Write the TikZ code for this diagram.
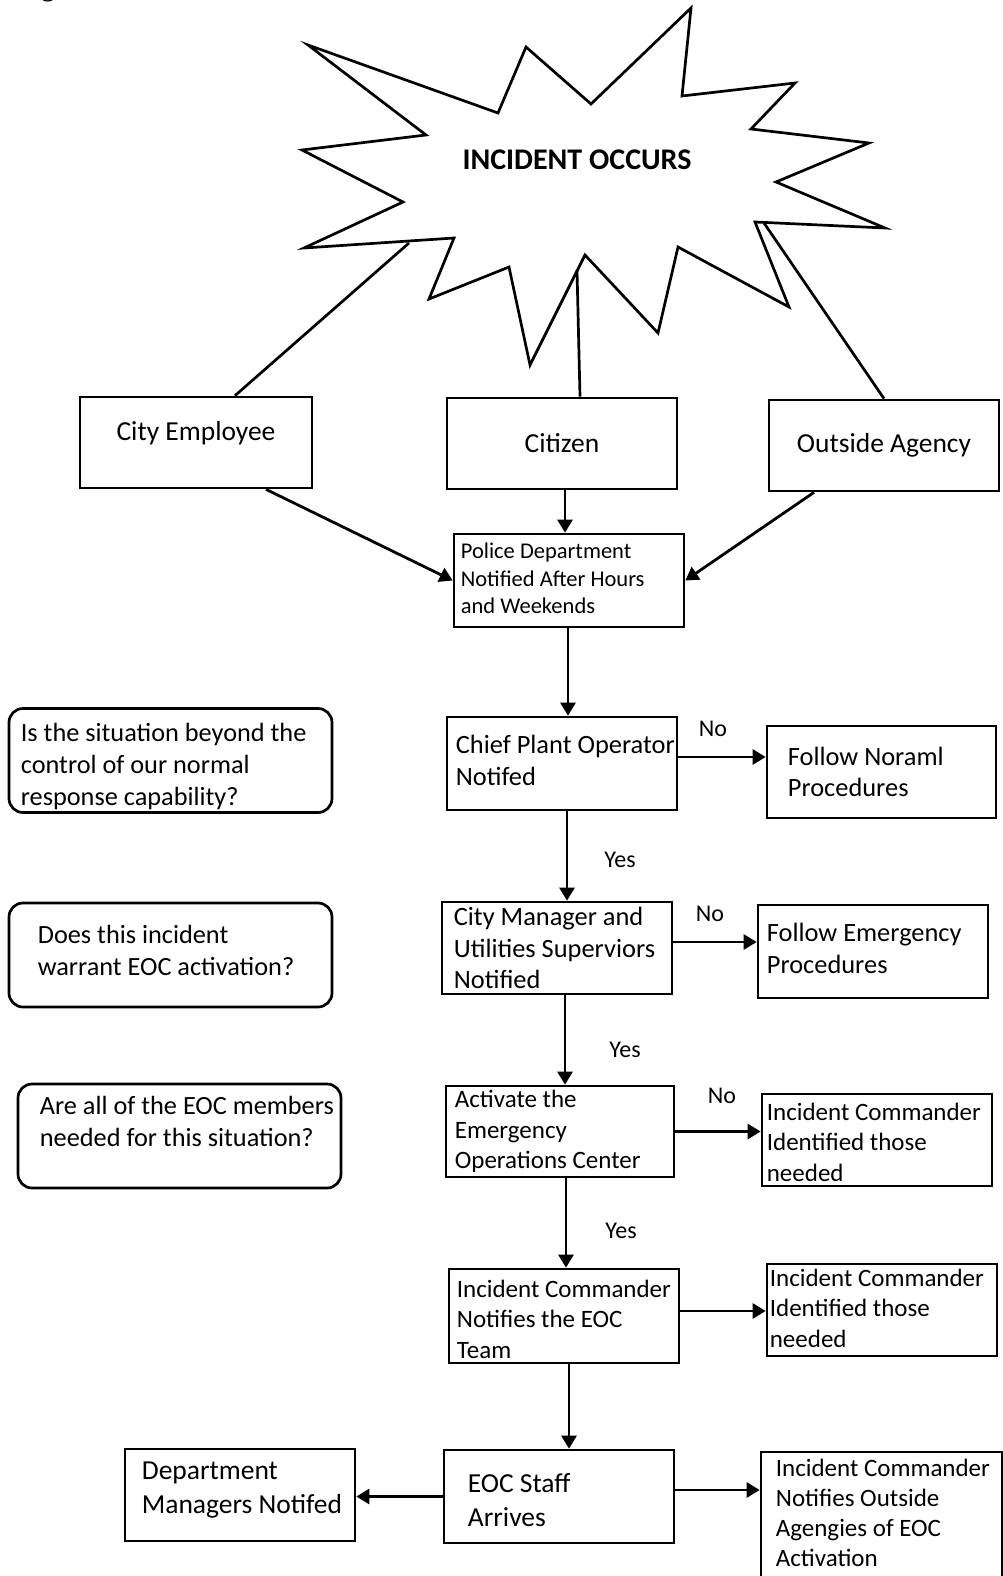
\documentclass[tikz,border=0pt]{standalone}
\usepackage{fontspec}
\setmainfont{Carlito}
\newfontfamily\capfont{Liberation Serif}
\usetikzlibrary{arrows.meta}

\newcommand{\boxfont}{\fontsize{25}{30.5}\selectfont}
\newcommand{\midfont}{\fontsize{26.4}{31.5}\selectfont}
\newcommand{\qfont}{\fontsize{26.3}{32}\selectfont}
\newcommand{\topfont}{\fontsize{27.5}{32}\selectfont}
\newcommand{\polfont}{\fontsize{22.5}{27.5}\selectfont}
\newcommand{\staffont}{\fontsize{27.5}{34}\selectfont}

\tikzset{
    box/.style={draw, line width=2.7pt, minimum width=230pt, minimum height=92pt, inner sep=0pt},
    qbox/.style={box, rounded corners=14pt, minimum width=323pt, minimum height=104pt},
    txt/.style={anchor=west, align=left, inner sep=0pt, font=\boxfont},
    lbl/.style={font=\fontsize{24}{28}\selectfont, inner sep=0pt},
    link/.style={line width=2.7pt},
    arr/.style={line width=2.8pt, -{Triangle[length=13pt,width=15pt]}}
}

\begin{document}
\begin{tikzpicture}[x=1pt, y=-1pt]
    \useasboundingbox (0,0) rectangle (1003,1576);

    % caption cut off at the top edge
    \node[font=\capfont\bfseries\fontsize{25}{28}\selectfont, anchor=base, inner sep=0pt] (figcap) at (48,-3.5) {g};

    % Incident burst
    \draw[line width=2.7pt, fill=white] (308,45) -- (426,135) -- (302,150) -- (403,202)
        -- (304,248) -- (454,238) -- (429,299) -- (509,267) -- (530,365) -- (585,255)
        -- (658,333) -- (678,247) -- (789,307) -- (755,222) -- (885,228) -- (776,182)
        -- (869,143) -- (751,129) -- (795,83) -- (682,96) -- (691,8) -- (591,104)
        -- (526,47) -- (498,113) -- cycle;
    \node[font=\bfseries\fontsize{30}{34}\selectfont] (incident) at (577,160) {INCIDENT OCCURS};
    \coordinate (sl) at (409,243);
    \coordinate (sm) at (577,270);
    \coordinate (sr) at (764,223);

    % Who reports it
    \node[box, minimum width=232pt, minimum height=91pt,
        label={[font=\topfont, yshift=9pt]center:City Employee}] (emp) at (196,442.5) {};
    \node[box, minimum height=91pt, font=\topfont] (cit) at (562,443.5) {Citizen};
    \node[box, minimum height=91pt, font=\topfont] (out) at (884,445.5) {Outside Agency};

    \node[box, minimum height=93pt,
        label={[txt, font=\polfont, xshift=8pt, yshift=2pt]west:{Police Department\\Notified After Hours\\and Weekends}}] (pol) at (569,580.5) {};

    % Main flow
    \node[box, minimum height=93pt,
        label={[txt, font=\midfont, xshift=10pt, yshift=3pt]west:{Chief Plant Operator\\Notifed}}] (chief) at (562,763.5) {};
    \node[box, minimum width=229pt,
        label={[txt, font=\midfont, xshift=22pt]west:{Follow Noraml\\Procedures}}] (normal) at (881.5,772) {};

    \node[box,
        label={[txt, font=\midfont, xshift=13pt]west:{City Manager and\\Utilities Superviors\\Notified}}] (cm) at (557,948) {};
    \node[box, minimum height=93pt,
        label={[txt, font=\midfont, xshift=10pt, yshift=3pt]west:{Follow Emergency\\Procedures}}] (emerg) at (873,951.5) {};

    \node[box, minimum width=228pt, minimum height=91pt,
        label={[txt, xshift=10pt]west:{Activate the\\Emergency\\Operations Center}}] (act) at (560,1131.5) {};
    \node[box,
        label={[txt, xshift=6pt, yshift=-2pt]west:{Incident Commander\\Identified those\\needed}}] (ident) at (877,1140) {};

    \node[box, minimum height=94pt,
        label={[txt, xshift=9pt, yshift=-3pt]west:{Incident Commander\\Notifies the EOC\\Team}}] (notif) at (564,1316) {};
    \node[box,
        label={[txt, xshift=4pt, yshift=2pt]west:{Incident Commander\\Identified those\\needed}}] (ident2) at (882,1310) {};

    \node[box, minimum height=93pt,
        label={[txt, font=\staffont, xshift=25pt, yshift=-4pt]west:{EOC Staff\\Arrives}}] (staff) at (559,1496.5) {};
    \node[box,
        label={[txt, font=\staffont, xshift=18pt, yshift=5pt]west:{Department\\Managers Notifed}}] (dept) at (240,1495) {};
    \node[box, minimum width=241pt, minimum height=130pt,
        label={[txt, font=\fontsize{25}{30}\selectfont, xshift=16pt, yshift=4pt]west:{Incident Commander\\Notifies Outside\\Agengies of EOC\\Activation}}] (outs) at (881.5,1517) {};

    % Questions
    \node[qbox, label={[txt, font=\qfont, xshift=13pt, yshift=-6pt]west:{Is the situation beyond the\\control of our normal\\response capability?}}] (q1) at (170.5,760.5) {};
    \node[qbox, label={[txt, font=\qfont, xshift=30pt, yshift=5pt]west:{Does this incident\\warrant EOC activation?}}] (q2) at (170.5,955) {};
    \node[qbox, label={[txt, font=\qfont, xshift=23pt, yshift=15pt]west:{Are all of the EOC members\\needed for this situation?}}] (q3) at (179.5,1136) {};

    % Yes / No
    \node[lbl] (no1) at (713,729) {No};
    \node[lbl] (yes1) at (620,860) {Yes};
    \node[lbl] (no2) at (710,914) {No};
    \node[lbl] (yes2) at (625,1050) {Yes};
    \node[lbl] (no3) at (722,1096) {No};
    \node[lbl] (yes3) at (621,1231) {Yes};

    % Connectors
    \draw[link] (sl) -- ([xshift=39pt]emp.north);
    \draw[link] (sm) -- ([xshift=18pt]cit.north);
    \draw[link] (sr) -- (out.north);

    \draw[arr] ([xshift=70pt]emp.south) -- (pol.west);
    \draw[arr] ([xshift=3pt]cit.south) -- ([xshift=3pt]cit.south |- pol.north);
    \draw[arr] ([xshift=-70pt]out.south) -- (pol.east);
    \draw[arr] ([xshift=-1pt]pol.south) -- ([xshift=-1pt]pol.south |- chief.north);

    \draw[arr] ([yshift=6.5pt]chief.east) -- ([yshift=6.5pt]chief.east -| normal.west);
    \draw[arr] ([xshift=5pt]chief.south) -- ([xshift=5pt]chief.south |- cm.north);
    \draw[arr] ([yshift=6pt]cm.east) -- ([yshift=6pt]cm.east -| emerg.west);
    \draw[arr] ([xshift=8pt]cm.south) -- ([xshift=8pt]cm.south |- act.north);
    \draw[arr] (act.east) -- (act.east -| ident.west);
    \draw[arr] ([xshift=6pt]act.south) -- ([xshift=6pt]act.south |- notif.north);
    \draw[arr] ([yshift=5pt]notif.east) -- ([yshift=5pt]notif.east -| ident2.west);
    \draw[arr] ([xshift=5pt]notif.south) -- ([xshift=5pt]notif.south |- staff.north);
    \draw[arr] (staff.west) -- (staff.west -| dept.east);
    \draw[arr] ([yshift=6.5pt]staff.east) -- ([yshift=6.5pt]staff.east -| outs.west);
\end{tikzpicture}
\end{document}
